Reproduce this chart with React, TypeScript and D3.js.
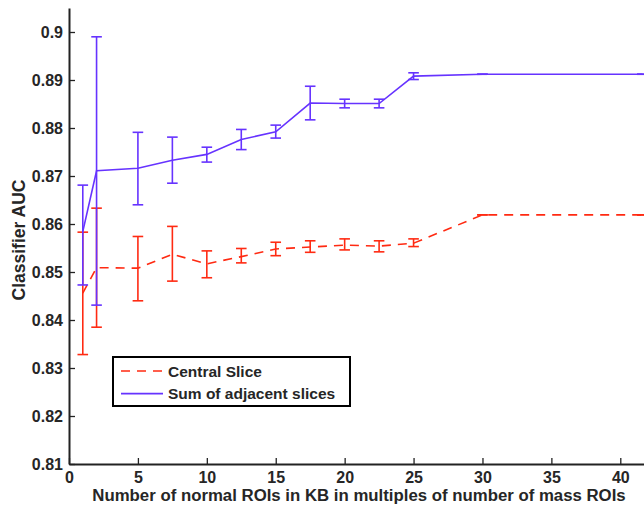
import React, { useEffect, useRef } from 'react';
import * as d3 from 'd3';

// x positions (multiples of number of mass ROIs)
const xVals = [1, 2, 5, 7.5, 10, 12.5, 15, 17.5, 20, 22.5, 25, 30, 41.6];

// Central Slice
const centralMean = [0.8456, 0.8509, 0.8508, 0.8537, 0.8517, 0.8532, 0.8548, 0.8552, 0.8556, 0.8554, 0.856, 0.8619, 0.8619];
const centralLow = [0.8328, 0.8385, 0.844, 0.8481, 0.8488, 0.8519, 0.8534, 0.8541, 0.8546, 0.8542, 0.8553, 0.8619, 0.8619];
const centralHigh = [0.8583, 0.8633, 0.8574, 0.8595, 0.8544, 0.8549, 0.8562, 0.8565, 0.8569, 0.8565, 0.8569, 0.8619, 0.8619];

// Sum of adjacent slices
const adjMean = [0.8584, 0.8711, 0.8716, 0.8733, 0.8745, 0.8776, 0.8792, 0.8852, 0.8851, 0.8851, 0.8908, 0.8912, 0.8912];
const adjLow = [0.8473, 0.8431, 0.864, 0.8685, 0.8729, 0.8755, 0.8779, 0.8817, 0.8842, 0.8842, 0.8901, 0.8912, 0.8912];
const adjHigh = [0.8681, 0.899, 0.8791, 0.8781, 0.876, 0.8797, 0.8806, 0.8887, 0.886, 0.886, 0.8915, 0.8912, 0.8912];

const xTicks = [0, 5, 10, 15, 20, 25, 30, 35, 40];
const yTicks = [0.81, 0.82, 0.83, 0.84, 0.85, 0.86, 0.87, 0.88, 0.89, 0.9];

const seriesNames = ['Central Slice', 'Sum of adjacent slices'];

const RED = '#ff2a12';
const BLUE = '#6633ff';
const FONT = '"Liberation Sans", Arial, Helvetica, sans-serif';

const AucChart = () => {
  const svgRef = useRef(null);

  useEffect(() => {
    const svg = d3.select(svgRef.current);
    svg.selectAll('*').remove();

    const width = 644;
    const height = 508;
    const margin = { top: 8, right: 0, bottom: 44, left: 69 };

    const xScale = d3.scaleLinear()
      .domain([0, 41.72])
      .range([margin.left, width - margin.right]);

    const yScale = d3.scaleLinear()
      .domain([0.81, 0.905])
      .range([height - margin.bottom, margin.top]);

    const series = [
      { name: seriesNames[0], color: RED, dash: '9,7', mean: centralMean, low: centralLow, high: centralHigh },
      { name: seriesNames[1], color: BLUE, dash: null, mean: adjMean, low: adjLow, high: adjHigh },
    ];

    const line = d3.line()
      .x(d => xScale(d[0]))
      .y(d => yScale(d[1]));

    const plot = svg.append('g');

    series.forEach(s => {
      const pts = xVals.map((x, i) => [x, s.mean[i]]);
      plot.append('path')
        .datum(pts)
        .attr('fill', 'none')
        .attr('stroke', s.color)
        .attr('stroke-width', 1.6)
        .attr('stroke-dasharray', s.dash)
        .attr('d', line);

      // error bars
      const eb = plot.append('g').attr('stroke', s.color).attr('stroke-width', 1.6).attr('fill', 'none');
      xVals.forEach((x, i) => {
        const cx = xScale(x);
        const y0 = yScale(s.low[i]);
        const y1 = yScale(s.high[i]);
        eb.append('line').attr('x1', cx).attr('x2', cx).attr('y1', y0).attr('y2', y1);
        eb.append('line').attr('x1', cx - 5.3).attr('x2', cx + 5.3).attr('y1', y0).attr('y2', y0);
        eb.append('line').attr('x1', cx - 5.3).attr('x2', cx + 5.3).attr('y1', y1).attr('y2', y1);
      });
    });

    // axes (matlab style, ticks inside)
    const xAxis = svg.append('g')
      .attr('transform', `translate(0, ${height - margin.bottom})`)
      .call(d3.axisBottom(xScale).tickValues(xTicks).tickSizeInner(-6).tickSizeOuter(0).tickPadding(12).tickFormat(d3.format('d')));

    const yAxis = svg.append('g')
      .attr('transform', `translate(${margin.left}, 0)`)
      .call(d3.axisLeft(yScale).tickValues(yTicks).tickSizeInner(-6).tickSizeOuter(0).tickPadding(6).tickFormat(d => d3.format('.2f')(d).replace(/0$/, '')));

    [xAxis, yAxis].forEach(ax => {
      ax.select('.domain').attr('stroke', '#222').attr('stroke-width', 2);
      ax.selectAll('.tick line').attr('stroke', '#222').attr('stroke-width', 1.3);
      ax.selectAll('.tick text')
        .attr('fill', '#262626')
        .style('font-family', FONT)
        .style('font-weight', 'bold')
        .style('font-size', '16px');
    });
    xAxis.selectAll('.tick text').attr('dy', '0.71em').attr('y', 8);
    yAxis.selectAll('.tick text').attr('dy', '0.36em');

    // axis labels
    svg.append('text')
      .attr('x', 359)
      .attr('y', 501)
      .attr('text-anchor', 'middle')
      .attr('fill', '#262626')
      .style('font-family', FONT)
      .style('font-weight', 'bold')
      .style('font-size', '16.8px')
      .text('Number of normal ROIs in KB in multiples of number of mass ROIs');

    svg.append('text')
      .attr('transform', `translate(25, 240) rotate(-90)`)
      .attr('text-anchor', 'middle')
      .attr('fill', '#262626')
      .style('font-family', FONT)
      .style('font-weight', 'bold')
      .style('font-size', '17.5px')
      .text('Classifier AUC');

    // legend
    const legend = svg.append('g').attr('transform', 'translate(113, 357)');
    legend.append('rect')
      .attr('x', 0)
      .attr('y', 0)
      .attr('width', 237)
      .attr('height', 49)
      .attr('fill', '#fff')
      .attr('stroke', '#000')
      .attr('stroke-width', 2);

    series.forEach((s, i) => {
      const ly = 14 + i * 22.6;
      legend.append('line')
        .attr('x1', 8)
        .attr('x2', 50)
        .attr('y1', ly)
        .attr('y2', ly)
        .attr('stroke', s.color)
        .attr('stroke-width', 1.6)
        .attr('stroke-dasharray', s.dash);
      legend.append('text')
        .attr('x', 55)
        .attr('y', ly)
        .attr('dy', '0.36em')
        .attr('fill', '#262626')
        .style('font-family', FONT)
        .style('font-weight', 'bold')
        .style('font-size', '15.5px')
        .text(s.name);
    });
  });

  return (
    <svg ref={svgRef} width="644" height="508" style={{ position: 'absolute', left: 0, top: 0, background: '#fff' }}></svg>
  );
};

export default function App() {
  return <AucChart />;
}
